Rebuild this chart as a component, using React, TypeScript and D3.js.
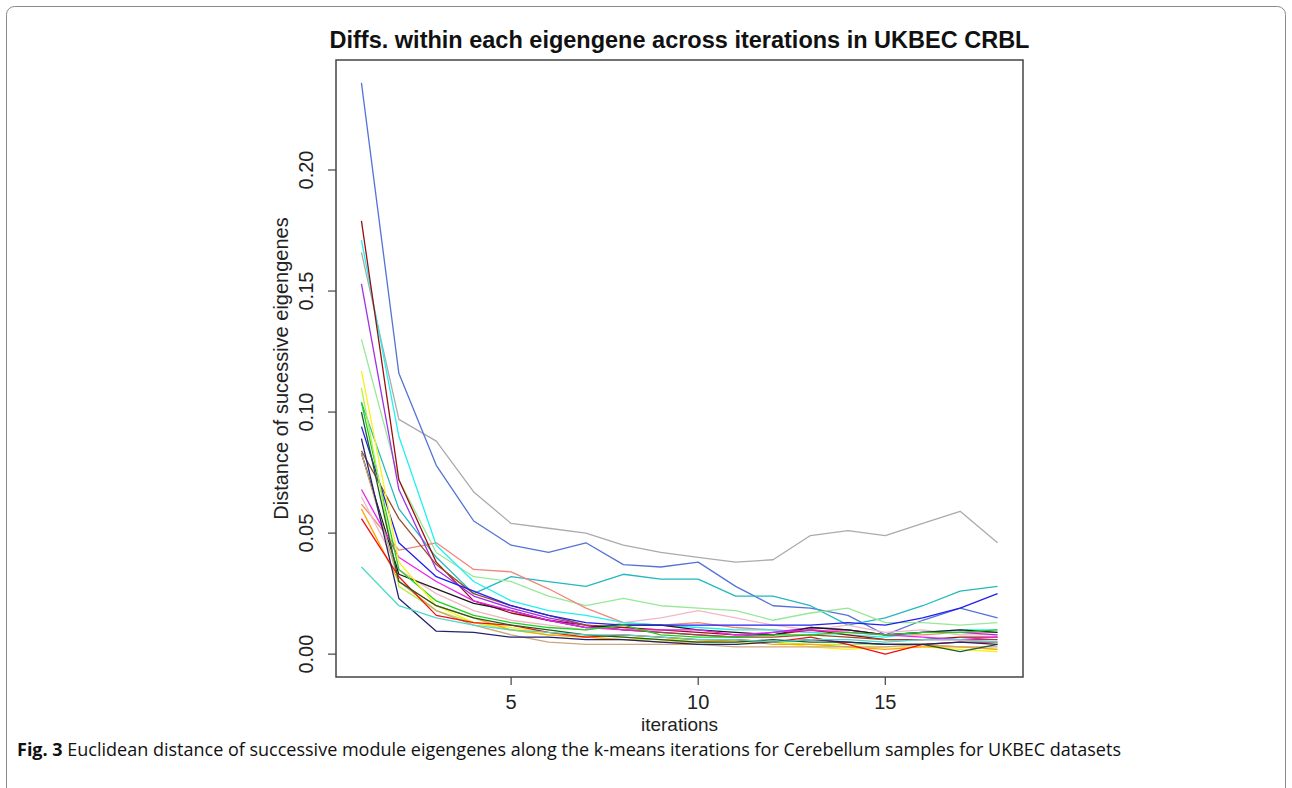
import React from "react";
import * as d3 from "d3";

const iterations = d3.range(1, 19);

const seriesNames = [
  "grey", "royalblue", "darkturquoise", "lightgreen", "salmon", "pink",
  "cyan", "darkred", "purple", "brown", "black", "blue", "magenta",
  "green", "greenyellow", "yellow", "orange", "tan", "red", "darkgreen",
  "midnightblue", "turquoise",
];

const seriesColors = [
  "#ABABAB", "#5573D6", "#22B8C0", "#98E898", "#F08878", "#F2B8C6",
  "#22F0F0", "#9A1010", "#A030E8", "#9A4A2A", "#1A1A1A", "#2020F0", "#F020F0",
  "#20D020", "#B4F040", "#F8F020", "#FFA500", "#CDA57E", "#F01010", "#1F5A2A",
  "#23236E", "#50D8C8",
];

const grey = [0.166, 0.097, 0.088, 0.067, 0.054, 0.052, 0.050, 0.045, 0.042, 0.040, 0.038, 0.039, 0.049, 0.051, 0.049, 0.054, 0.059, 0.046];
const royalblue = [0.236, 0.116, 0.078, 0.055, 0.045, 0.042, 0.046, 0.037, 0.036, 0.038, 0.028, 0.020, 0.019, 0.016, 0.008, 0.014, 0.019, 0.015];
const darkturquoise = [0.104, 0.060, 0.040, 0.025, 0.032, 0.030, 0.028, 0.033, 0.031, 0.031, 0.024, 0.024, 0.020, 0.012, 0.015, 0.020, 0.026, 0.028];
const lightgreen = [0.130, 0.072, 0.042, 0.032, 0.030, 0.024, 0.020, 0.023, 0.020, 0.019, 0.018, 0.014, 0.017, 0.019, 0.013, 0.013, 0.012, 0.013];
const salmon = [0.062, 0.043, 0.046, 0.035, 0.034, 0.027, 0.019, 0.013, 0.012, 0.013, 0.011, 0.010, 0.009, 0.010, 0.008, 0.008, 0.009, 0.009];
const pink = [0.065, 0.035, 0.025, 0.018, 0.014, 0.012, 0.010, 0.013, 0.015, 0.018, 0.015, 0.012, 0.010, 0.012, 0.009, 0.010, 0.008, 0.008];
const cyan = [0.171, 0.090, 0.045, 0.030, 0.022, 0.018, 0.016, 0.013, 0.012, 0.011, 0.010, 0.010, 0.009, 0.008, 0.007, 0.009, 0.010, 0.010];
const darkred = [0.179, 0.072, 0.038, 0.022, 0.017, 0.014, 0.012, 0.011, 0.010, 0.009, 0.008, 0.008, 0.010, 0.008, 0.006, 0.006, 0.007, 0.007];
const purple = [0.153, 0.068, 0.035, 0.024, 0.019, 0.015, 0.012, 0.010, 0.009, 0.008, 0.007, 0.009, 0.011, 0.010, 0.008, 0.009, 0.009, 0.008];
const brown = [0.084, 0.056, 0.037, 0.025, 0.020, 0.016, 0.012, 0.010, 0.009, 0.008, 0.007, 0.007, 0.008, 0.007, 0.006, 0.006, 0.006, 0.006];
const black = [0.083, 0.033, 0.027, 0.021, 0.018, 0.014, 0.011, 0.012, 0.012, 0.010, 0.009, 0.008, 0.011, 0.010, 0.008, 0.009, 0.010, 0.009];
const blue = [0.094, 0.046, 0.032, 0.026, 0.020, 0.016, 0.013, 0.012, 0.012, 0.012, 0.012, 0.012, 0.012, 0.013, 0.012, 0.015, 0.019, 0.025];
const magenta = [0.068, 0.040, 0.030, 0.022, 0.018, 0.014, 0.011, 0.010, 0.010, 0.010, 0.008, 0.009, 0.010, 0.009, 0.008, 0.007, 0.006, 0.007];
const green = [0.104, 0.035, 0.022, 0.016, 0.013, 0.011, 0.010, 0.012, 0.008, 0.007, 0.007, 0.008, 0.008, 0.009, 0.008, 0.009, 0.009, 0.010];
const greenyellow = [0.110, 0.028, 0.018, 0.013, 0.010, 0.008, 0.007, 0.006, 0.006, 0.005, 0.005, 0.005, 0.004, 0.004, 0.004, 0.004, 0.003, 0.002];
const yellow = [0.117, 0.038, 0.020, 0.013, 0.011, 0.009, 0.008, 0.007, 0.006, 0.006, 0.005, 0.005, 0.003, 0.002, 0.003, 0.003, 0.002, 0.001];
const orange = [0.060, 0.030, 0.020, 0.015, 0.010, 0.008, 0.007, 0.006, 0.005, 0.005, 0.006, 0.004, 0.004, 0.003, 0.002, 0.003, 0.003, 0.002];
const tan = [0.083, 0.030, 0.018, 0.012, 0.008, 0.005, 0.004, 0.004, 0.004, 0.004, 0.003, 0.003, 0.003, 0.003, 0.003, 0.004, 0.003, 0.003];
const red = [0.056, 0.032, 0.016, 0.013, 0.012, 0.009, 0.007, 0.008, 0.007, 0.006, 0.006, 0.005, 0.007, 0.004, 0.000, 0.004, 0.005, 0.005];
const darkgreen = [0.100, 0.030, 0.020, 0.015, 0.012, 0.010, 0.008, 0.007, 0.006, 0.005, 0.005, 0.006, 0.005, 0.005, 0.004, 0.004, 0.001, 0.004];
const midnightblue = [0.089, 0.023, 0.0095, 0.009, 0.007, 0.007, 0.006, 0.006, 0.005, 0.004, 0.004, 0.005, 0.006, 0.005, 0.004, 0.004, 0.005, 0.004];
const turquoise = [0.036, 0.020, 0.015, 0.012, 0.010, 0.009, 0.008, 0.008, 0.007, 0.006, 0.006, 0.005, 0.006, 0.006, 0.005, 0.006, 0.006, 0.005];

const seriesValues = [
  grey, royalblue, darkturquoise, lightgreen, salmon, pink, cyan, darkred,
  purple, brown, black, blue, magenta, green, greenyellow, yellow, orange,
  tan, red, darkgreen, midnightblue, turquoise,
];

const xTicks = [5, 10, 15];
const yTicks = [0, 0.05, 0.1, 0.15, 0.2];
const yTickLabels = ["0.00", "0.05", "0.10", "0.15", "0.20"];

const title = "Diffs. within each eigengene across iterations in UKBEC CRBL";
const xLabel = "iterations";
const yLabel = "Distance of sucessive eigengenes";
const captionBold = "Fig. 3";
const captionText = " Euclidean distance of successive module eigengenes along the k-means iterations for Cerebellum samples for UKBEC datasets";

export default function App() {
  const W = 1292, H = 788;
  const left = 336, right = 1023, top = 60, bottom = 677;

  const xMin = d3.min(iterations) as number;
  const xMax = d3.max(iterations) as number;
  const xPad = (xMax - xMin) * 0.04;
  const yMin = 0;
  const yMax = d3.max(seriesValues.flat()) as number;
  const yPad = (yMax - yMin) * 0.04;

  const x = d3.scaleLinear().domain([xMin - xPad, xMax + xPad]).range([left, right]);
  const y = d3.scaleLinear().domain([yMin - yPad, yMax + yPad]).range([bottom, top]);

  const line = d3
    .line<number>()
    .x((_, i) => x(iterations[i]))
    .y((d) => y(d));

  const helv = "'Liberation Sans', Arial, Helvetica, sans-serif";
  const axisColor = "#444";
  const axisFont = 20;

  return (
    <svg
      width={W}
      height={H}
      style={{ position: "absolute", left: 0, top: 0, background: "#fff" }}
    >
      <rect x={0} y={0} width={W} height={H} fill="#fff" />
      {/* outer frame */}
      <rect x={6.5} y={6.5} width={1279} height={820} rx={8} ry={8} fill="none" stroke="#8a8a8a" strokeWidth={1} />

      <text
        x={(left + right) / 2}
        y={48}
        textAnchor="middle"
        fontFamily={helv}
        fontWeight="bold"
        fontSize={23.5}
        fill="#111"
      >
        {title}
      </text>

      {/* lines */}
      <g fill="none" strokeWidth={1.3} strokeLinejoin="round">
        {seriesValues.map((vals, i) => (
          <path key={seriesNames[i]} d={line(vals) || ""} stroke={seriesColors[i]} />
        ))}
      </g>

      {/* box */}
      <rect x={left} y={top} width={right - left} height={bottom - top} fill="none" stroke={axisColor} strokeWidth={1.5} />

      {/* x axis ticks */}
      {xTicks.map((t) => (
        <g key={t}>
          <line x1={x(t)} x2={x(t)} y1={bottom} y2={bottom + 8} stroke={axisColor} strokeWidth={1.2} />
          <text x={x(t)} y={709} textAnchor="middle" fontFamily={helv} fontSize={axisFont} fill="#222">
            {t}
          </text>
        </g>
      ))}
      <text x={(left + right) / 2} y={731} textAnchor="middle" fontFamily={helv} fontSize={19} fill="#222">
        {xLabel}
      </text>

      {/* y axis ticks */}
      {yTicks.map((t, i) => (
        <g key={t}>
          <line x1={left - 8} x2={left} y1={y(t)} y2={y(t)} stroke={axisColor} strokeWidth={1.2} />
          <text
            transform={`translate(306,${y(t)}) rotate(-90)`}
            textAnchor="middle"
            dy="0.35em"
            fontFamily={helv}
            fontSize={axisFont}
            fill="#222"
          >
            {yTickLabels[i]}
          </text>
        </g>
      ))}
      <text
        transform={`translate(281,${(top + bottom) / 2}) rotate(-90)`}
        textAnchor="middle"
        dy="0.35em"
        fontFamily={helv}
        fontSize={axisFont}
        fill="#222"
      >
        {yLabel}
      </text>

      {/* caption */}
      <text x={17} y={756} fontFamily="'Open Sans', 'Noto Sans', sans-serif" fontSize={18} fill="#111">
        <tspan fontWeight="bold">{captionBold}</tspan>
        <tspan>{captionText}</tspan>
      </text>
    </svg>
  );
}
